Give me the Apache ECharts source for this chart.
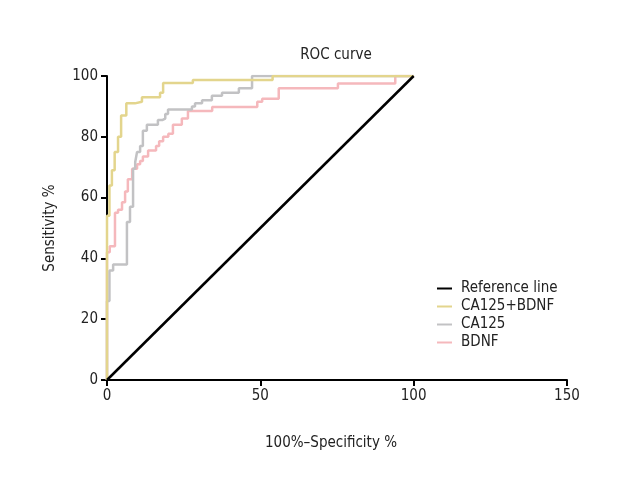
<!DOCTYPE html>
<html><head><meta charset="utf-8">
<script src="https://cdn.jsdelivr.net/npm/echarts@6/dist/echarts.min.js"></script>
<style>html,body{margin:0;padding:0;background:#fff}#c{width:620px;height:500px}</style>
</head><body><div id="c"></div>
<script>
const seriesNames = ['Reference line', 'CA125+BDNF', 'CA125', 'BDNF'];
const xTicks = [0, 50, 100, 150];
const yTicks = [0, 20, 40, 60, 80, 100];

const refX = [0, 100];
const refY = [0, 100];

const comboX = [0, 0, 0.8, 0.8, 1.6, 1.6, 2.5, 2.5, 3.6, 3.6, 4.6, 4.6, 6.3, 6.3, 9.1, 9.1, 11.4, 11.4, 17.3, 17.3, 18.3, 18.3, 28, 28, 54, 54, 100];
const comboY = [0, 54, 54, 64, 64, 69, 69, 75, 75, 80, 80, 87, 87, 91, 91, 91.5, 91.5, 93, 93, 94.5, 94.5, 97.7, 97.7, 98.7, 98.7, 100, 100];

const ca125X = [0, 0, 0.8, 0.8, 2, 2, 6.5, 6.5, 7.5, 7.5, 8.5, 8.5, 9.2, 9.2, 9.8, 9.8, 10.8, 10.8, 11.7, 11.7, 13, 13, 16.6, 16.6, 18, 18, 19, 19, 19.9, 19.9, 27.7, 27.7, 28.7, 28.7, 31, 31, 34.2, 34.2, 37.5, 37.5, 43, 43, 47.3, 47.3, 100];
const ca125Y = [0, 26, 26, 36, 36, 38, 38, 52, 52, 57, 57, 69.5, 69.5, 71.7, 71.7, 75, 75, 77, 77, 82, 82, 84, 84, 85.5, 85.5, 86, 86, 87.5, 87.5, 89, 89, 90, 90, 91, 91, 92, 92, 93.5, 93.5, 94.5, 94.5, 96, 96, 100, 100];

const bdnfX = [0, 0, 0.9, 0.9, 2.6, 2.6, 3.6, 3.6, 4.9, 4.9, 5.9, 5.9, 6.8, 6.8, 8.2, 8.2, 9.8, 9.8, 10.8, 10.8, 11.7, 11.7, 13.4, 13.4, 16, 16, 17, 17, 18.3, 18.3, 20, 20, 21.5, 21.5, 24.4, 24.4, 26.4, 26.4, 34.3, 34.3, 49, 49, 50.6, 50.6, 56, 56, 75.3, 75.3, 94, 94, 100];
const bdnfY = [0, 42, 42, 44, 44, 55, 55, 56, 56, 58.5, 58.5, 62, 62, 66, 66, 69.5, 69.5, 71, 71, 72, 72, 73.5, 73.5, 75.5, 75.5, 77, 77, 78.5, 78.5, 80, 80, 81, 81, 84, 84, 86, 86, 88.5, 88.5, 89.8, 89.8, 91.5, 91.5, 92.5, 92.5, 96, 96, 97.5, 97.5, 100, 100];

const colors = ['#000000', '#e3d58d', '#c2c2c4', '#f5b8bc'];
const zip = (xs, ys) => xs.map((x, i) => [x, ys[i]]);
const FONT = '"Liberation Sans Narrow", "DejaVu Sans Condensed", sans-serif';

const chart = echarts.init(document.getElementById('c'));
const mk = (name, xs, ys, color, z) => ({
  name, type: 'line', data: zip(xs, ys), showSymbol: false, symbol: 'none',
  lineStyle: { color, width: 2.5 }, itemStyle: { color }, z, animation: false
});
chart.setOption({
  animation: false,
  title: {
    text: 'ROC curve', left: 331, top: 43, textAlign: 'center',
    textStyle: { fontFamily: FONT, fontSize: 15, fontWeight: 'normal', color: '#222' }
  },
  legend: {
    orient: 'vertical', left: 432, top: 276, itemGap: 3,
    itemWidth: 15, itemHeight: 2, icon: 'rect',
    data: seriesNames,
    textStyle: { fontFamily: FONT, fontSize: 15, color: '#222', padding: [0, 0, 0, 4] }
  },
  grid: { left: 107, right: 53, top: 76, bottom: 120, containLabel: false },
  xAxis: {
    type: 'value', min: xTicks[0], max: xTicks[xTicks.length - 1], interval: 50,
    name: '100%–Specificity %', nameLocation: 'middle', nameGap: 56,
    nameTextStyle: { fontFamily: FONT, fontSize: 15, color: '#222', padding: [0, 12, 0, 0] },
    axisLine: { lineStyle: { color: '#000', width: 2 } },
    axisTick: { length: 6, lineStyle: { color: '#000', width: 2 } },
    axisLabel: { fontFamily: FONT, fontSize: 15, color: '#222', margin: 9 },
    splitLine: { show: false }
  },
  yAxis: {
    type: 'value', min: yTicks[0], max: yTicks[yTicks.length - 1], interval: 20,
    name: 'Sensitivity %', nameLocation: 'middle', nameGap: 49,
    nameTextStyle: { fontFamily: FONT, fontSize: 15, color: '#222' },
    axisLine: { show: true, lineStyle: { color: '#000', width: 2 } },
    axisTick: { show: true, length: 6, lineStyle: { color: '#000', width: 2 } },
    axisLabel: { fontFamily: FONT, fontSize: 15, color: '#222', margin: 9 },
    splitLine: { show: false }
  },
  series: [
    mk(seriesNames[0], refX, refY, colors[0], 5),
    mk(seriesNames[3], bdnfX, bdnfY, colors[3], 2),
    mk(seriesNames[2], ca125X, ca125Y, colors[2], 3),
    mk(seriesNames[1], comboX, comboY, colors[1], 4)
  ]
});
</script></body></html>
